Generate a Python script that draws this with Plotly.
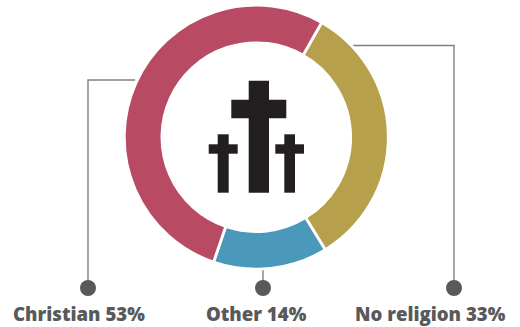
import plotly.graph_objects as go

# Religious affiliation shares
categories = ["No religion", "Other", "Christian"]
shares = [33, 14, 53]
colors = ["#b7a04b", "#4a98ba", "#b94a63"]

W, H = 520, 327
CX, CY, R = 256.3, 137.2, 132.0
LINE = "#808080"
INK = "#58595b"
ICON = "#231f20"


def px(x):
    return x / W


def py(y):
    return 1 - y / H


def box(x0, y0, x1, y1):
    return dict(type="rect", xref="paper", yref="paper", x0=px(x0), x1=px(x1),
                y0=py(y1), y1=py(y0), fillcolor=ICON, line=dict(width=0), layer="above")


def leader(points):
    path = "M " + " L ".join(f"{px(x):.5f},{py(y):.5f}" for x, y in points)
    return dict(type="path", xref="paper", yref="paper", path=path,
                line=dict(color=LINE, width=1.4), layer="below")


def dot(x, y, r=8):
    return dict(type="circle", xref="paper", yref="paper", x0=px(x - r), x1=px(x + r),
                y0=py(y + r), y1=py(y - r), fillcolor=INK, line=dict(width=0))


fig = go.Figure(go.Pie(
    labels=categories,
    values=shares,
    hole=0.715,
    sort=False,
    direction="clockwise",
    rotation=29.7,
    marker=dict(colors=colors, line=dict(color="white", width=2.8)),
    textinfo="none",
    hoverinfo="label+percent",
    showlegend=False,
    domain=dict(x=[px(CX - R), px(CX + R)], y=[py(CY + R), py(CY - R)]),
))

shapes = [
    # Three crosses in the ring's centre
    box(248.7, 80.7, 269, 192.7), box(231.3, 99.7, 286.3, 118.3),
    box(217.7, 134.3, 228.7, 192.7), box(208.7, 144.3, 237.7, 153.7),
    box(284.3, 134.3, 295, 192.7), box(275.3, 144.3, 304, 153.7),
    # Leader lines and their end dots
    leader([(135, 80), (88, 80), (88, 288)]),
    leader([(263, 270), (263, 288)]),
    leader([(353, 45.5), (454, 45.5), (454, 288)]),
    dot(88, 288), dot(263, 288), dot(454, 288),
]

label_positions = {"Christian": 79, "Other": 256, "No religion": 430}
annotations = [
    dict(text=f"{c} {s}%", x=px(label_positions[c]), y=py(313), xref="paper", yref="paper",
         showarrow=False, xanchor="center", yanchor="middle",
         font=dict(family="Open Sans", size=18.6, color=INK, weight=800))
    for c, s in zip(categories, shares)
]

fig.update_layout(
    width=W, height=H, margin=dict(l=0, r=0, t=0, b=0),
    paper_bgcolor="white", plot_bgcolor="white",
    shapes=shapes, annotations=annotations,
)
fig.write_html("out.html", config=dict(displayModeBar=False))
